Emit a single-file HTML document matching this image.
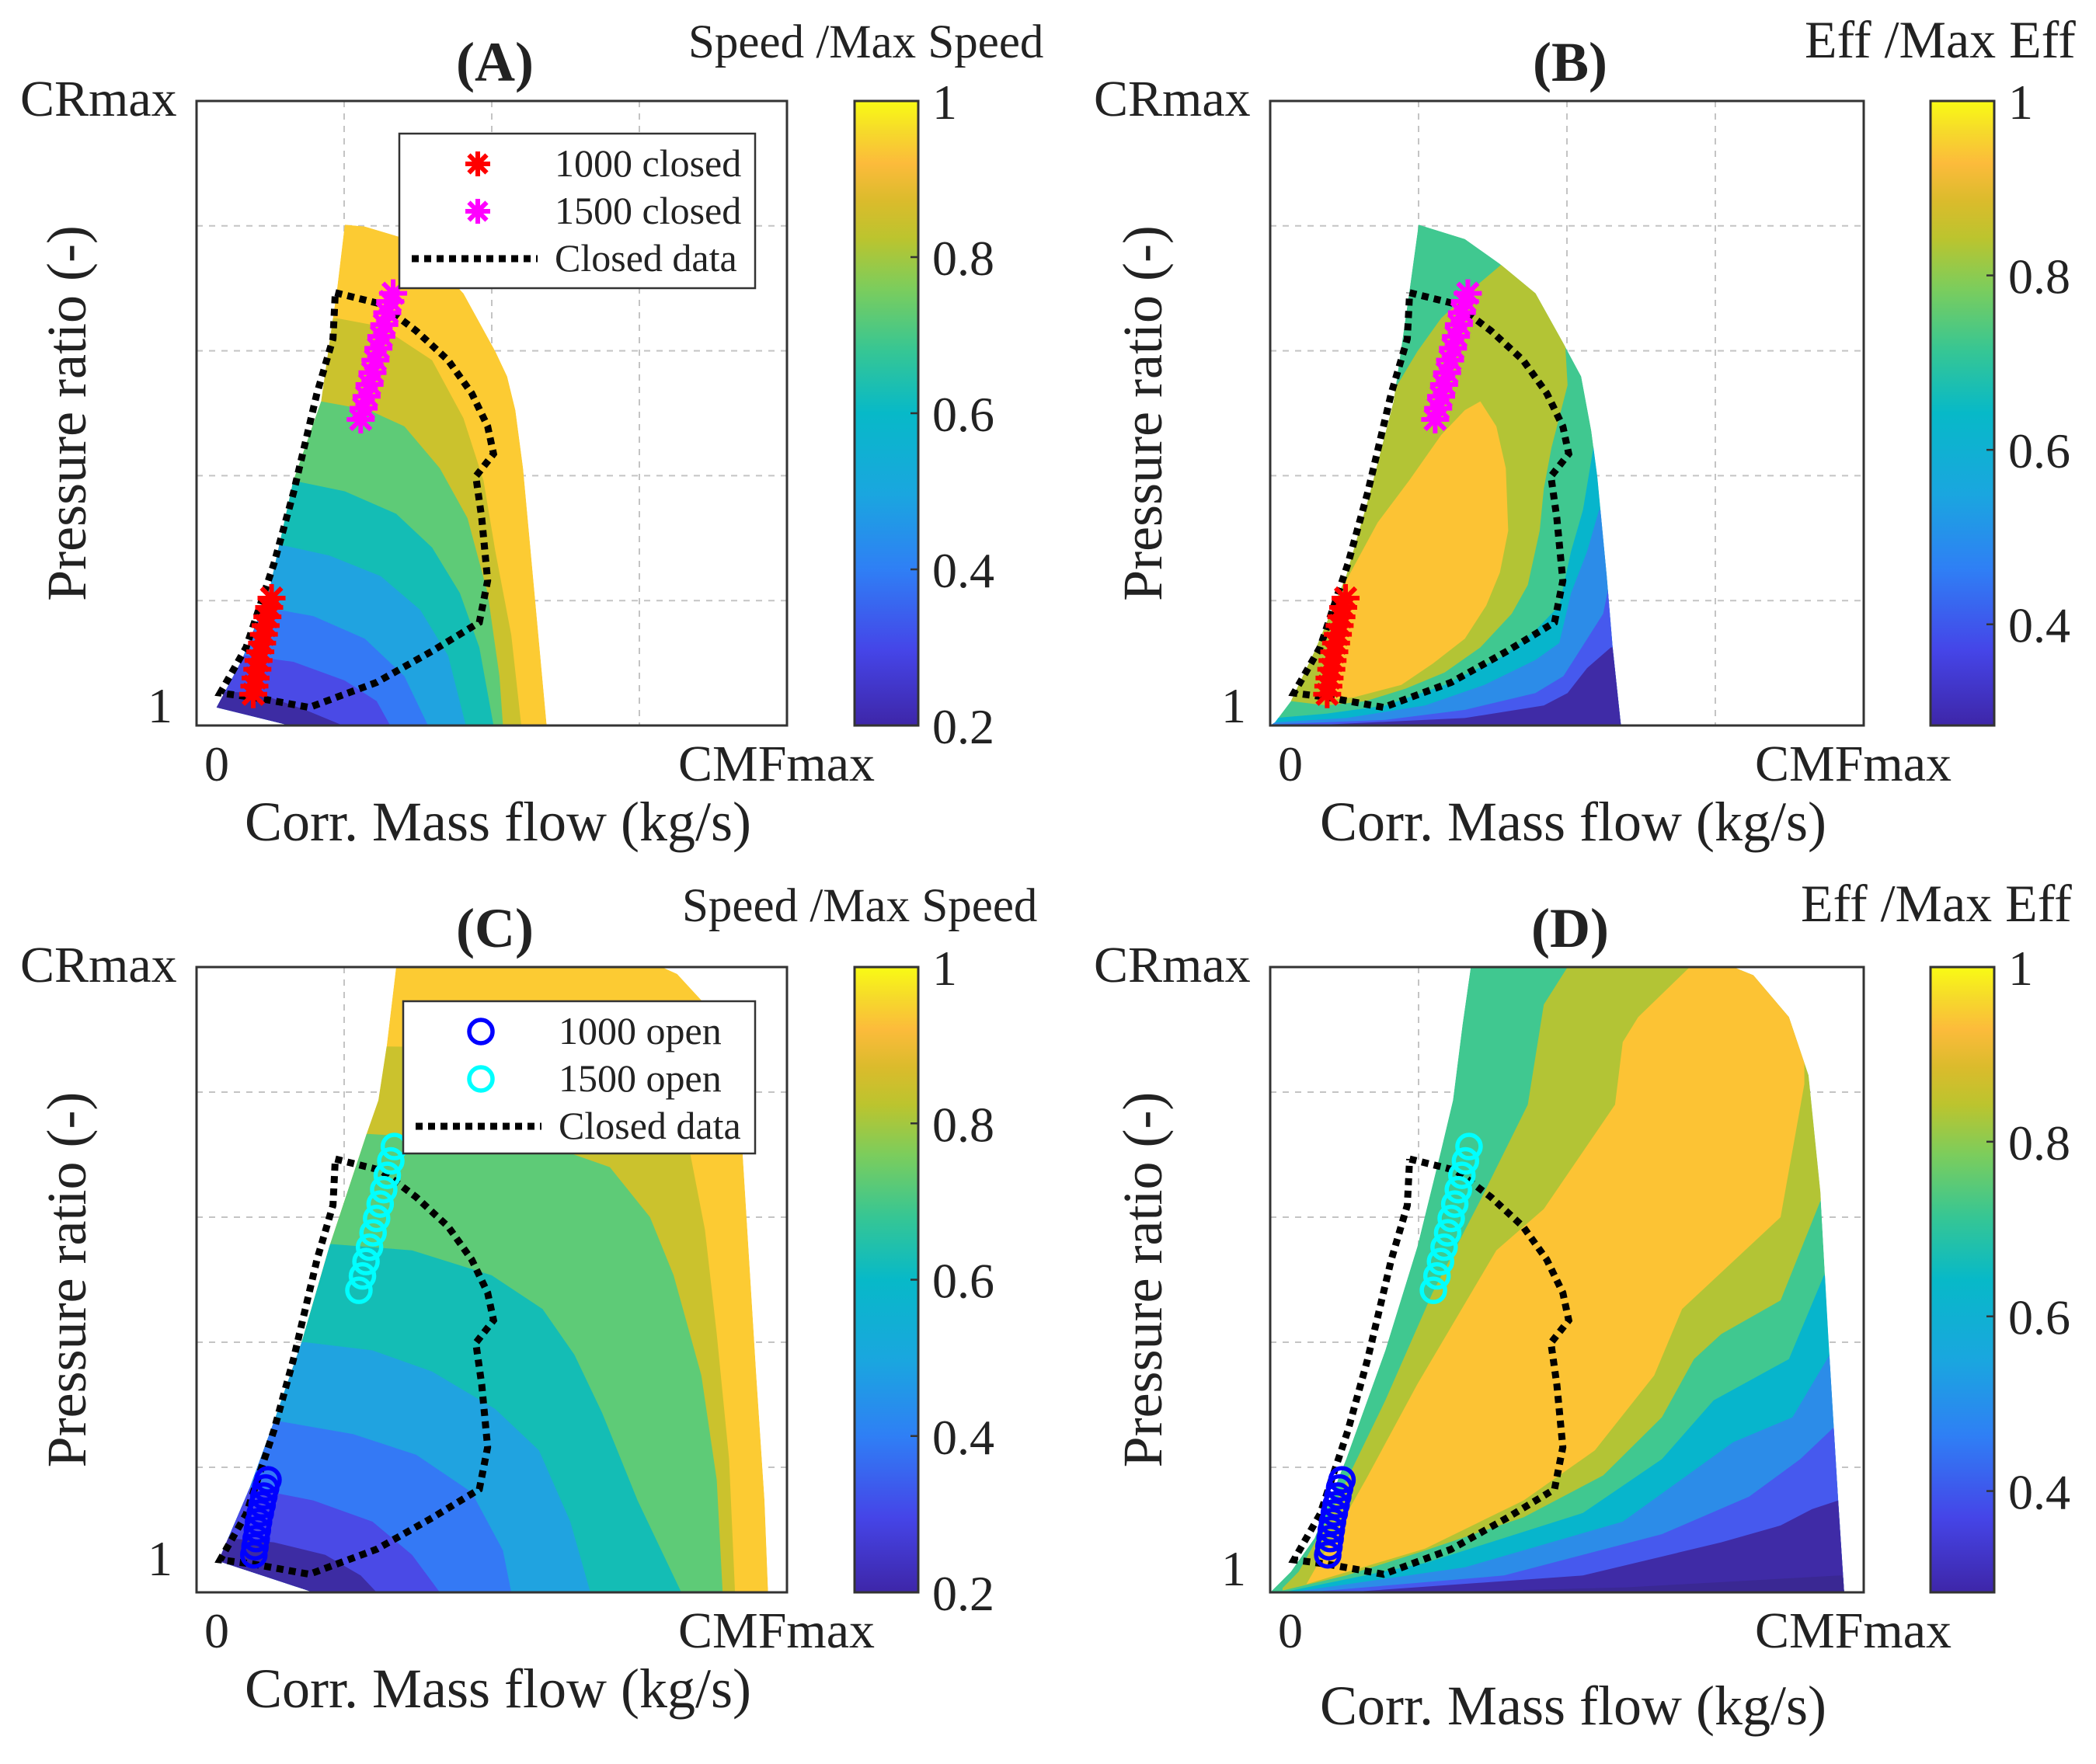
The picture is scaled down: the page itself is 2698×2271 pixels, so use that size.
<!DOCTYPE html>
<html><head><meta charset="utf-8">
<style>
html,body{margin:0;padding:0;background:#fff;}
svg{display:block;}
text{font-family:"Liberation Serif",serif;fill:#222;}
</style></head>
<body>
<svg id="fig" xmlns="http://www.w3.org/2000/svg" width="2698" height="2271" viewBox="0 0 2698 2271">
<defs>
<linearGradient id="parula" x1="0" y1="1" x2="0" y2="0">
<stop offset="0" stop-color="#3e26a8"/>
<stop offset="0.12" stop-color="#4545e8"/>
<stop offset="0.25" stop-color="#2f7ff5"/>
<stop offset="0.37" stop-color="#1aa6df"/>
<stop offset="0.5" stop-color="#07b9c8"/>
<stop offset="0.6" stop-color="#36c694"/>
<stop offset="0.7" stop-color="#7ccd5c"/>
<stop offset="0.78" stop-color="#bcc42e"/>
<stop offset="0.84" stop-color="#dbbb2c"/>
<stop offset="0.9" stop-color="#fcbb3b"/>
<stop offset="0.95" stop-color="#f6d92b"/>
<stop offset="1" stop-color="#f9fb14"/>
</linearGradient>
</defs>
</svg>
<script>
// ---------- DATA (axes in % of CMFmax / % of CRmax range) ----------
const closedData = [[23.5,69.3],[31.2,67.5],[37.2,63.2],[42.6,58.5],[46.6,53.2],[49.3,47.9],[50.3,43.5],[47.3,39.9],[48.3,33.2],[49.3,23.2],[47.9,16.5],[39.9,11.9],[30.5,6.9],[19.1,2.9],[9.7,4.5],[4.0,5.2],[8.4,12.5],[13.1,25.9],[16.4,37.2],[20.4,53.2],[23.1,61.9],[23.5,69.3]];
const closed1000 = [[9.6,5.0],[9.8,6.3],[10.0,7.6],[10.3,9.0],[10.5,10.4],[10.8,11.8],[11.1,13.2],[11.4,14.6],[11.7,16.0],[12.0,17.4],[12.3,18.9],[12.7,20.4]];
const closed1500 = [[27.8,49.0],[28.3,50.8],[28.8,52.7],[29.3,54.6],[29.8,56.5],[30.3,58.5],[30.8,60.4],[31.3,62.3],[31.8,64.2],[32.3,66.1],[32.8,67.9],[33.3,69.2]];
const open1000 = [[9.7,6.0],[9.9,7.3],[10.1,8.6],[10.3,10.0],[10.5,11.3],[10.8,12.7],[11.1,14.0],[11.4,15.4],[11.7,16.7],[12.1,18.0]];
const open1500 = [[27.5,48.3],[28.1,50.6],[28.7,52.9],[29.3,55.2],[29.9,57.5],[30.5,59.8],[31.1,62.1],[31.7,64.4],[32.3,66.7],[32.9,69.0],[33.5,71.3]];

const envA = [[25.1,80.2],[23.8,69.9],[21.1,51.9],[16.4,39.2],[12.4,21.9],[7.7,10.5],[3.4,2.9],[15.8,0],[59.3,0],[55.3,41.2],[54.0,50.5],[52.6,55.9],[50.6,59.9],[45.2,69.2],[39.9,74.5],[34.5,78.2],[28.5,79.9]];
const speedLevelsA = [0.9,0.8,0.7,0.6,0.5,0.4,0.3];
const speedLinesA = [
 [[23.8,65.2],[31.2,63.9],[39.9,58.5],[45.2,49.2],[48.6,39.2],[50.6,27.9],[53.3,14.5],[55.0,0]],
 [[21.1,51.9],[29.2,50.5],[35.2,47.9],[41.2,41.2],[45.9,33.2],[49.3,21.2],[51.3,7.9],[51.9,0]],
 [[16.4,39.2],[25.1,37.5],[33.8,33.9],[39.9,28.5],[44.6,21.2],[47.9,12.5],[50.3,0]],
 [[14.4,28.9],[22.5,27.2],[31.2,23.9],[37.9,18.5],[42.6,11.2],[45.6,0]],
 [[11.7,18.9],[19.8,17.5],[28.5,13.9],[35.2,7.9],[39.2,0]],
 [[8.4,11.2],[16.4,10.2],[25.1,7.2],[30.5,3.9],[32.8,0]],
 [[2.3,5.5],[10.4,5.2],[18.4,2.5],[24.8,0]]
];
const envC = [[3.7,5.0],[9.0,16.7],[13.1,27.3],[17.8,40.0],[22.5,55.3],[28.8,73.3],[30.8,78.7],[32.2,87.3],[33.8,100],[78.8,100],[81.4,98.9],[85.5,94.7],[92.2,74.7],[93.5,54.7],[94.8,34.7],[96.2,14.7],[96.8,0],[19.8,0]];
const speedLevelsC = [0.9,0.8,0.7,0.6,0.5,0.4,0.3];
const speedLinesC = [
 [[32.2,87.3],[60.0,87.0],[76.8,81.3],[83.5,70.7],[86.1,58.0],[88.1,41.3],[90.2,21.3],[91.2,0]],
 [[29.2,73.3],[39.9,72.7],[60.0,71.3],[70.0,68.0],[76.8,60.0],[80.8,50.7],[85.5,34.7],[88.1,18.0],[89.1,0]],
 [[22.8,55.7],[36.5,54.7],[50.0,50.7],[58.6,45.3],[64.0,38.0],[68.7,28.7],[74.7,14.7],[82.1,0]],
 [[18.4,40.0],[29.8,38.7],[39.9,35.3],[50.6,29.3],[58.0,22.7],[63.3,11.3],[66.7,0]],
 [[14.4,27.3],[26.5,25.3],[37.2,22.0],[46.6,16.0],[51.9,6.7],[53.3,0]],
 [[9.0,16.7],[19.8,14.7],[29.8,11.3],[36.5,6.0],[41.2,0]],
 [[5.0,8.7],[13.1,8.0],[21.8,6.0],[27.8,2.7],[30.5,0]]
];
const envB = [[25.0,80.2],[32.8,77.9],[38.7,73.9],[44.7,69.2],[49.4,61.2],[52.4,55.9],[54.1,47.2],[55.1,39.9],[56.7,23.9],[57.7,12.5],[59.1,0],[0,0],[0.8,0.5],[3.5,3.9],[7.5,11.9],[12.8,23.9],[16.8,37.2],[20.8,51.9],[23.4,69.2]];
const effIslandsB = [
 [[39.1,73.9],[42.1,71.9],[46.1,67.9],[49.7,61.2],[50.1,54.5],[47.4,44.5],[46.1,37.9],[45.4,31.2],[43.4,22.5],[40.7,17.9],[35.4,12.5],[29.4,8.5],[22.8,5.9],[16.1,3.9],[9.5,3.2],[3.5,3.9],[9.5,21.2],[14.8,39.9],[18.1,47.9],[21.4,54.5],[24.8,59.9],[28.8,65.2],[34.1,69.9]],
 [[35.4,51.9],[38.1,47.9],[39.7,41.2],[40.1,31.2],[38.7,24.5],[36.4,19.2],[32.8,13.9],[27.4,9.9],[22.1,6.5],[14.1,4.5],[8.1,3.9],[10.8,14.5],[12.8,23.2],[18.1,32.5],[23.4,39.2],[28.8,46.5],[32.8,50.5]]
];
const effLowB = [
 [[0.8,1.2],[9.5,1.9],[19.4,3.2],[29.4,6.5],[39.4,11.2],[44.7,15.2],[48.7,19.2],[50.7,27.9],[52.7,34.5],[54.7,45.9]],
 [[0.8,0.5],[12.8,1.2],[26.1,3.2],[36.1,6.5],[44.7,10.5],[48.7,13.2],[50.7,21.2],[53.4,27.9],[55.4,34.5]],
 [[0.8,0.2],[19.4,0.9],[32.8,2.5],[44.7,5.2],[49.4,7.9],[52.1,11.9],[56.1,17.9],[57.4,23.9]],
 [[6.1,0],[32.8,1.2],[46.1,3.2],[50.1,5.2],[53.4,9.2],[57.4,12.5]]
];
const envD = [[0,0],[3.5,3.3],[7.5,8.7],[12.8,21.3],[19.4,38.7],[24.8,55.3],[28.8,70.7],[30.8,78.7],[32.4,90.7],[33.8,100],[78.0,100],[81.4,98.7],[87.4,92.0],[90.7,82.7],[92.7,64.0],[94.0,41.3],[95.7,14.7],[96.7,0]];
const effIslandsD = [
 [[50.1,100],[46.1,94],[43.4,78],[35.4,62.7],[27.4,48],[19.4,30.7],[9.5,11.3],[4.8,3.3],[2.1,0.7],[2.1,0.3],[12.8,2.7],[26.1,6.7],[42.7,12],[56.1,18.7],[66,28],[71.4,37.3],[76,41.3],[86,46.7],[93,63.3],[100,63.3],[100,100]],
 [[70.7,100],[62,92],[59.4,88],[58.1,78],[46.1,61.3],[38.1,54.7],[24.8,33.3],[16.1,18],[6.1,1.3],[26.1,7],[42.7,14.7],[54.7,22.7],[64.7,34.7],[69.4,45.3],[86,60],[90,81.3],[90,100]]
];
const effLowD = [
 [[2.1,0],[26.1,4.7],[52.7,12.7],[66.0,21.3],[74.7,30.7],[87.4,37.3],[93.3,50.7]],
 [[3.5,0],[32.8,4.0],[59.4,11.3],[78.0,24.0],[88.0,28.0],[94.7,38.7]],
 [[6.1,0],[39.4,2.7],[66.0,9.3],[80.7,15.3],[89.3,21.3],[95.3,26.7]],
 [[12.8,0],[52.7,2.7],[76.0,8.0],[86.0,10.7],[91.3,13.3],[95.7,14.7]],
 [[26.6,0],[60.0,0.8],[96.0,2.7]]
];
const speedTicks = [0.2,0.4,0.6,0.8,1];
const speedTickLabels = ["0.2","0.4","0.6","0.8","1"];
const effTicks = [0.4,0.6,0.8,1];
const effTickLabels = ["0.4","0.6","0.8","1"];

const speedColors = {top:'#fccb33', bands:['#cbc22d','#5ecb77','#14bdb5','#20a3e0','#3479f5','#4a4ae6','#3d2ca3']};
const effColors = {base:'#40c890', islands:['#b3c435','#fcc334'], low:['#07b5cc','#2c8ce8','#4659ee','#3f2ba6','#3a2893']};

const NS='http://www.w3.org/2000/svg';
const svg=document.getElementById('fig');
function el(tag,attrs,parent){const e=document.createElementNS(NS,tag);for(const k in attrs)e.setAttribute(k,attrs[k]);(parent||svg).appendChild(e);return e;}

const panels={
 A:{x0:253,x1:1013,y0:130,y1:934},
 B:{x0:1635,x1:2399,y0:130,y1:934},
 C:{x0:253,x1:1013,y0:1245,y1:2050},
 D:{x0:1635,x1:2399,y0:1245,y1:2050}
};
function sx(P,u){return P.x0+(P.x1-P.x0)*u/100;}
function sy(P,v){return P.y1-(P.y1-P.y0)*v/100;}
function pts(P,arr){return arr.map(p=>sx(P,p[0]).toFixed(1)+','+sy(P,p[1]).toFixed(1)).join(' ');}

function txt(x,y,s,size,anchor,parent,extra){const t=el('text',Object.assign({x:x,y:y,'font-size':size,'text-anchor':anchor||'start'},extra||{}),parent);t.textContent=s;return t;}

function axesFrame(key,g){
 const P=panels[key];
 el('rect',{x:P.x0,y:P.y0,width:P.x1-P.x0,height:P.y1-P.y0,fill:'#fff'},g);
 const grid=el('g',{stroke:'#c4c4c4','stroke-width':2,'stroke-dasharray':'8 8'},g);
 
 
 [25,50,75].forEach(u=>el('line',{x1:sx(P,u),x2:sx(P,u),y1:P.y0,y2:P.y1},grid));
 [20,40,60,80].forEach(v=>el('line',{x1:P.x0,x2:P.x1,y1:sy(P,v),y2:sy(P,v)},grid));
 el('clipPath',{id:'clip'+key},g);
 return P;
}
function envelopeClip(key,env){
 const P=panels[key];
 const cp=document.getElementById('clip'+key);
 el('polygon',{points:pts(P,env)},cp);
}
function regionBelow(line){
 const first=line[0],last=line[line.length-1];
 return [[-10,first[1]]].concat(line,[[last[0],-10],[-10,-10]]);
}
function regionLowRight(line){
 const first=line[0],last=line[line.length-1];
 return [[-10,first[1]]].concat(line,[[110,last[1]],[110,-10],[-10,-10]]);
}

function drawSpeedPanel(key,env,levels,lines,g){
 const P=axesFrame(key,g);
 envelopeClip(key,env);
 const cg=el('g',{'clip-path':'url(#clip'+key+')'},g);
 
 
 const top=el('polygon',{points:pts(P,env),fill:speedColors.top},cg);
 
 
 lines.forEach((ln,i)=>{
  const b=el('polygon',{points:pts(P,regionBelow(ln)),fill:speedColors.bands[i]},cg);
  
  
 });
 return P;
}
function drawEffPanel(key,env,islands,low,g){
 const P=axesFrame(key,g);
 envelopeClip(key,env);
 const cg=el('g',{'clip-path':'url(#clip'+key+')'},g);
 
 
 const base=el('polygon',{points:pts(P,env),fill:effColors.base},cg);
 
 
 islands.forEach((isl,i)=>{
  const b=el('polygon',{points:pts(P,isl),fill:effColors.islands[i]},cg);
  
  
 });
 low.forEach((ln,i)=>{
  const b=el('polygon',{points:pts(P,regionLowRight(ln)),fill:effColors.low[i]},cg);
  
  
 });
 return P;
}
function drawClosed(P,g){
 const pl=el('polyline',{points:pts(P,closedData),fill:'none',stroke:'#000','stroke-width':9,'stroke-dasharray':'9 7'},g);
 
 
}
function asterisk(x,y,r,color,parent){
 const a=el('g',{stroke:color,'stroke-width':6,'stroke-linecap':'butt'},parent);
 el('line',{x1:x-r,y1:y,x2:x+r,y2:y},a);
 el('line',{x1:x,y1:y-r,x2:x,y2:y+r},a);
 el('line',{x1:x-r*0.72,y1:y-r*0.72,x2:x+r*0.72,y2:y+r*0.72},a);
 el('line',{x1:x-r*0.72,y1:y+r*0.72,x2:x+r*0.72,y2:y-r*0.72},a);
 return a;
}
function drawStars(P,data,color,name,g){
 const sg=el('g',{},g);
 
 
 data.forEach(p=>{
  const a=asterisk(sx(P,p[0]),sy(P,p[1]),18,color,sg);
  
  
 });
}
function drawCircles(P,data,color,name,g){
 const sg=el('g',{},g);
 
 
 data.forEach(p=>{
  const c=el('circle',{cx:sx(P,p[0]),cy:sy(P,p[1]),r:15,fill:'none',stroke:color,'stroke-width':5.5},sg);
  
  
 });
}
function drawBorder(P,g){
 const r=el('rect',{x:P.x0,y:P.y0,width:P.x1-P.x0,height:P.y1-P.y0,fill:'none',stroke:'#333','stroke-width':3},g);
 
 
}
function drawColorbar(x0,y0,y1,vmin,ticks,labels,title,titleX,titleY,titleSize,g){
 const cb=el('g',{},g);
 
 
 el('rect',{x:x0,y:y0,width:82,height:y1-y0,fill:'url(#parula)',stroke:'#333','stroke-width':3},cb);
 const cy=v=>y1-(y1-y0)*(v-vmin)/(1-vmin);
 ticks.forEach((v,i)=>{
  const y=cy(v);
  el('line',{x1:x0+72,x2:x0+82,y1:y,y2:y,stroke:'#333','stroke-width':2.5},cb);
  const t=txt(x0+100,y+23,labels[i],64,'start',cb);
  
  
 });
 const tt=txt(titleX,titleY,title,titleSize,'start',g);
 
 
}
function axisText(P,key,title,dy,xlabDy,ylabX){
 const g=svg;
 const t=txt((P.x0+P.x1)/2+4,P.y0-26,title,72,'middle',g,{'font-weight':'bold'});
 
 
 const cr=txt(P.x0-227,P.y0+19,'CRmax',66,'start',g);
 
 
 const one=txt(P.x0-31,P.y1-4+dy,'1',64,'end',g);
 
 
 const zero=txt(P.x0+26,P.y1+71,'0',64,'middle',g);
 
 
 const cm=txt(P.x1-140,P.y1+71,'CMFmax',66,'start',g);
 
 
 const xl=txt((P.x0+P.x1)/2+8,P.y1+148+xlabDy,'Corr. Mass flow (kg/s)',72,'middle',g);
 
 
 const yc=(P.y0+P.y1)/2;
 const yl=txt(ylabX,yc,'Pressure ratio (-)',72,'middle',g,{transform:'rotate(-90 '+ylabX+' '+yc+')'});
 
 
}
function legend(x0,y0,w,h,entries,g){
 const lg=el('g',{},g);
 
 
 el('rect',{x:x0,y:y0,width:w,height:h,fill:'#fff',stroke:'#333','stroke-width':2.5},lg);
 entries.forEach((e,i)=>{
  const yc=y0+39+i*61;
  const eg=el('g',{},lg);
  
  
  if(e.type==='star') asterisk(x0+101,yc,16,e.color,eg);
  else if(e.type==='circle') el('circle',{cx:x0+100,cy:yc,r:15,fill:'none',stroke:e.color,'stroke-width':5.5},eg);
  else el('line',{x1:x0+16,x2:x0+178,y1:yc,y2:yc,stroke:'#000','stroke-width':9,'stroke-dasharray':'9 7'},eg);
  txt(x0+200,yc+16,e.label,50,'start',eg);
 });
}

function panelGroup(name){const g=el('g',{});return g;}

const gA=panelGroup('panel-a-speed-closed');
const PA=drawSpeedPanel('A',envA,speedLevelsA,speedLinesA,gA);
drawClosed(PA,gA); drawStars(PA,closed1000,'#ff0000','closed-1000',gA); drawStars(PA,closed1500,'#ff00ff','closed-1500',gA);
legend(514,172,458,199,[{type:'star',color:'#ff0000',label:'1000 closed'},{type:'star',color:'#ff00ff',label:'1500 closed'},{type:'line',label:'Closed data'}],gA);
drawBorder(PA,gA);
drawColorbar(1100,130,934,0.2,speedTicks,speedTickLabels,'Speed /Max Speed',886,74,61,gA);
axisText(PA,'A','(A)',0,0,110);

const gB=panelGroup('panel-b-efficiency-closed');
const PB=drawEffPanel('B',envB,effIslandsB,effLowB,gB);
drawClosed(PB,gB); drawStars(PB,closed1000,'#ff0000','closed-1000',gB); drawStars(PB,closed1500,'#ff00ff','closed-1500',gB);
drawBorder(PB,gB);
drawColorbar(2485,130,934,0.284,effTicks,effTickLabels,'Eff /Max Eff',2323,74,68,gB);
axisText(PB,'B','(B)',0,0,1495);

const gC=panelGroup('panel-c-speed-open');
const PC=drawSpeedPanel('C',envC,speedLevelsC,speedLinesC,gC);
drawClosed(PC,gC); drawCircles(PC,open1000,'#0000ff','open-1000',gC); drawCircles(PC,open1500,'#00ffff','open-1500',gC);
legend(519,1289,453,196,[{type:'circle',color:'#0000ff',label:'1000 open'},{type:'circle',color:'#00ffff',label:'1500 open'},{type:'line',label:'Closed data'}],gC);
drawBorder(PC,gC);
drawColorbar(1100,1245,2050,0.2,speedTicks,speedTickLabels,'Speed /Max Speed',878,1186,61,gC);
axisText(PC,'C','(C)',-18,0,110);

const gD=panelGroup('panel-d-efficiency-open');
const PD=drawEffPanel('D',envD,effIslandsD,effLowD,gD);
drawClosed(PD,gD); drawCircles(PD,open1000,'#0000ff','open-1000',gD); drawCircles(PD,open1500,'#00ffff','open-1500',gD);
drawBorder(PD,gD);
drawColorbar(2485,1245,2050,0.284,effTicks,effTickLabels,'Eff /Max Eff',2318,1186,68,gD);
axisText(PD,'D','(D)',-5,22,1495);
</script>
</body></html>
